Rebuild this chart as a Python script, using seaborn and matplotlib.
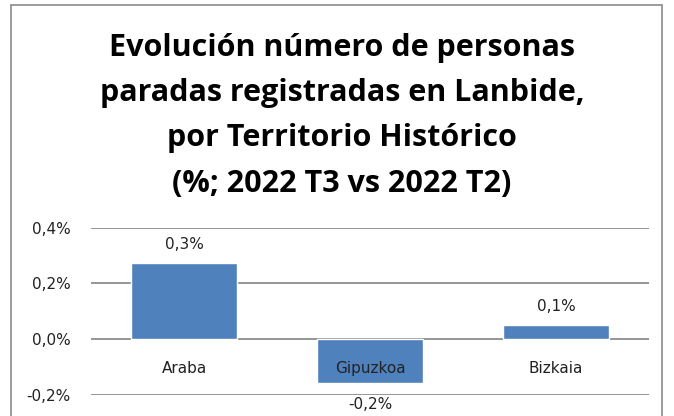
import matplotlib
matplotlib.use("Agg")
import matplotlib.pyplot as plt
import seaborn as sns
import pandas as pd
from matplotlib.patches import Rectangle

territorios = ["Araba", "Gipuzkoa", "Bizkaia"]
variacion = [0.273, -0.156, 0.050]
etiquetas = ["0,3%", "-0,2%", "0,1%"]
yticks = [-0.2, 0.0, 0.2, 0.4]
ytick_labels = ["-0,2%", "0,0%", "0,2%", "0,4%"]
titulo = ("Evolución número de personas\nparadas registradas en Lanbide,\n"
          "por Territorio Histórico\n(%; 2022 T3 vs 2022 T2)")

sns.set_style("white")
plt.rcParams["font.family"] = ["DejaVu Sans"]

df = pd.DataFrame({"territorio": territorios, "variacion": variacion})

fig = plt.figure(figsize=(6.74, 4.16), dpi=100)
ax = fig.add_axes([91/674, 1-395/416, (649-91)/674, (395-227.7)/416])

sns.barplot(data=df, x="territorio", y="variacion", color="#4F81BD",
            saturation=1, width=0.57, ax=ax, zorder=3)

ax.set_ylim(-0.2, 0.4)
ax.set_xlim(-0.5, 2.5)
ax.set_yticks(yticks)
ax.set_yticklabels(ytick_labels, fontsize=11, color="#222222")
ax.yaxis.grid(True, color="#8c8c8c", linewidth=1.3, zorder=0)
ax.xaxis.grid(False)
ax.xaxis.set_zorder(5)
for s in ax.spines.values():
    s.set_visible(False)
ax.spines["bottom"].set_position(("data", 0))
ax.tick_params(axis="x", length=0, pad=15.5, labelsize=11, labelcolor="#222222")
ax.tick_params(axis="y", length=0, pad=14.5)
ax.set_xlabel("")
ax.set_ylabel("")

cont = ax.containers[0]
lab_pos = [e if v >= 0 else "" for e, v in zip(etiquetas, variacion)]
lab_neg = [e if v < 0 else "" for e, v in zip(etiquetas, variacion)]
ax.bar_label(cont, labels=lab_pos, padding=8, fontsize=11, color="#222222")
ax.bar_label(cont, labels=lab_neg, padding=10, fontsize=11, color="#222222")

fig.text(342/674, 1-33/416, titulo, ha="center", va="top",
         fontsize=22, fontweight="bold", family=["Open Sans", "DejaVu Sans"],
         linespacing=1.66, color="black")

fig.patches.append(Rectangle((11/674, -0.05), (662-11)/674, 1-5/416+0.05,
                             transform=fig.transFigure, fill=False,
                             edgecolor="#8a8a8a", linewidth=1.2))

fig.savefig("out.png", dpi=100)
